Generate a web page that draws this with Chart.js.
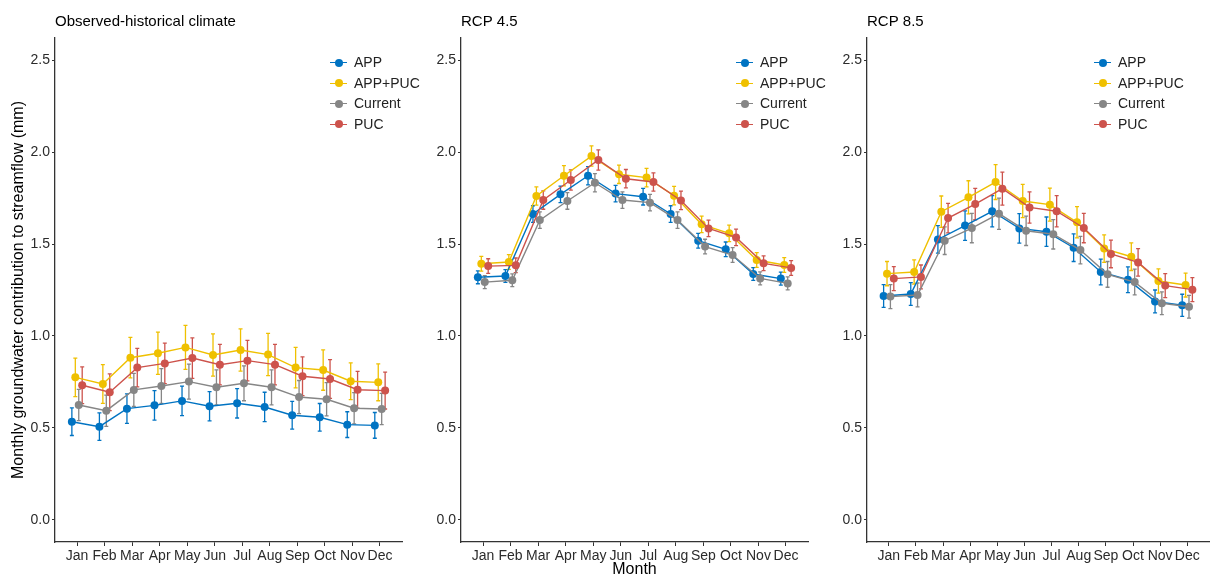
<!DOCTYPE html>
<html>
<head>
<meta charset="utf-8">
<script src="https://cdn.jsdelivr.net/npm/chart.js@4.4.0/dist/chart.umd.min.js"></script>
<style>
  body { margin: 0; background: #fff; font-family: "Liberation Sans", Arial, sans-serif; }
  #wrap { position: relative; width: 1213px; height: 578px; overflow: hidden; }
  .panel { position: absolute; top: 0; height: 578px; }
  .legend { position: absolute; top: 52px; font-size: 14px; color: #222; }
  .item { position: relative; height: 20.5px; line-height: 20.5px; padding-left: 24px; white-space: nowrap; }
  .item .ln { position: absolute; left: 0; top: 10px; width: 17px; height: 0; border-top: 1.4px solid; }
  .item .dt { position: absolute; left: 4.5px; top: 6.5px; width: 8px; height: 8px; border-radius: 50%; }
</style>
</head>
<body>
<div id="wrap"></div>
<script>
const months = ['Jan', 'Feb', 'Mar', 'Apr', 'May', 'Jun', 'Jul', 'Aug', 'Sep', 'Oct', 'Nov', 'Dec'];
const seriesNames = ['APP', 'APP+PUC', 'Current', 'PUC'];
const seriesColors = ['#0073C2', '#EFC000', '#868686', '#CD534C'];
const yTicks = [0, 0.5, 1.0, 1.5, 2.0, 2.5];

// Observed-historical climate
const histAPP     = [0.534, 0.507, 0.605, 0.623, 0.647, 0.618, 0.634, 0.614, 0.569, 0.558, 0.518, 0.514];
const histAPPPUC  = [0.775, 0.739, 0.882, 0.906, 0.938, 0.897, 0.924, 0.899, 0.828, 0.815, 0.754, 0.748];
const histCurrent = [0.625, 0.594, 0.707, 0.728, 0.752, 0.721, 0.743, 0.721, 0.668, 0.656, 0.607, 0.603];
const histPUC     = [0.732, 0.694, 0.828, 0.851, 0.880, 0.844, 0.866, 0.844, 0.781, 0.766, 0.708, 0.703];
const histAPPErr     = [0.075, 0.075, 0.08, 0.08, 0.08, 0.08, 0.08, 0.08, 0.075, 0.075, 0.07, 0.07];
const histAPPPUCErr  = [0.105, 0.105, 0.11, 0.115, 0.12, 0.115, 0.115, 0.115, 0.11, 0.11, 0.1, 0.1];
const histCurrentErr = [0.085, 0.085, 0.09, 0.095, 0.095, 0.095, 0.095, 0.095, 0.09, 0.09, 0.085, 0.085];
const histPUCErr     = [0.1, 0.1, 0.105, 0.11, 0.11, 0.11, 0.11, 0.11, 0.105, 0.105, 0.1, 0.1];

// RCP 4.5
const rcp45APP     = [1.319, 1.326, 1.663, 1.770, 1.871, 1.774, 1.757, 1.663, 1.518, 1.471, 1.337, 1.312];
const rcp45APPPUC  = [1.393, 1.402, 1.761, 1.871, 1.978, 1.879, 1.861, 1.763, 1.607, 1.558, 1.413, 1.386];
const rcp45Current = [1.293, 1.303, 1.630, 1.734, 1.833, 1.739, 1.725, 1.630, 1.486, 1.440, 1.313, 1.286];
const rcp45PUC     = [1.380, 1.384, 1.739, 1.848, 1.957, 1.855, 1.837, 1.737, 1.585, 1.536, 1.395, 1.370];
const rcp45APPErr     = [0.035, 0.035, 0.045, 0.045, 0.05, 0.045, 0.045, 0.045, 0.04, 0.04, 0.035, 0.035];
const rcp45APPPUCErr  = [0.04, 0.04, 0.05, 0.055, 0.055, 0.05, 0.05, 0.05, 0.045, 0.045, 0.04, 0.04];
const rcp45CurrentErr = [0.035, 0.035, 0.045, 0.045, 0.05, 0.045, 0.045, 0.045, 0.04, 0.04, 0.035, 0.035];
const rcp45PUCErr     = [0.04, 0.04, 0.05, 0.055, 0.055, 0.05, 0.05, 0.05, 0.045, 0.045, 0.04, 0.04];

// RCP 8.5
const rcp85APP     = [1.217, 1.228, 1.525, 1.600, 1.678, 1.585, 1.567, 1.480, 1.348, 1.306, 1.188, 1.167];
const rcp85APPPUC  = [1.339, 1.348, 1.676, 1.754, 1.837, 1.734, 1.714, 1.618, 1.475, 1.431, 1.299, 1.277];
const rcp85Current = [1.214, 1.223, 1.518, 1.587, 1.665, 1.572, 1.553, 1.467, 1.335, 1.293, 1.178, 1.159];
const rcp85PUC     = [1.312, 1.321, 1.641, 1.717, 1.801, 1.699, 1.678, 1.587, 1.446, 1.400, 1.274, 1.252];
const rcp85APPErr     = [0.062, 0.062, 0.075, 0.08, 0.085, 0.08, 0.08, 0.075, 0.07, 0.07, 0.062, 0.06];
const rcp85APPPUCErr  = [0.066, 0.066, 0.085, 0.09, 0.095, 0.09, 0.09, 0.085, 0.075, 0.075, 0.066, 0.065];
const rcp85CurrentErr = [0.065, 0.065, 0.075, 0.08, 0.085, 0.08, 0.08, 0.075, 0.07, 0.07, 0.062, 0.062];
const rcp85PUCErr     = [0.065, 0.065, 0.08, 0.085, 0.09, 0.085, 0.085, 0.08, 0.075, 0.075, 0.065, 0.065];

// horizontal dodge of the four series around each month
const dodge = [-0.1875, -0.0625, 0.0625, 0.1875];
const fontFamily = '"Liberation Sans", Arial, sans-serif';

const panels = [
  { left: 0, width: 406, padRight: 4, legendLeft: 330, title: 'Observed-historical climate', yTitle: true, xTitle: false,
    values: [histAPP, histAPPPUC, histCurrent, histPUC],
    errors: [histAPPErr, histAPPPUCErr, histCurrentErr, histPUCErr] },
  { left: 406, width: 406, padRight: 4, legendLeft: 330, title: 'RCP 4.5', yTitle: false, xTitle: true,
    values: [rcp45APP, rcp45APPPUC, rcp45Current, rcp45PUC],
    errors: [rcp45APPErr, rcp45APPPUCErr, rcp45CurrentErr, rcp45PUCErr] },
  { left: 812, width: 401, padRight: 0, legendLeft: 282, title: 'RCP 8.5', yTitle: false, xTitle: false,
    values: [rcp85APP, rcp85APPPUC, rcp85Current, rcp85PUC],
    errors: [rcp85APPErr, rcp85APPPUCErr, rcp85CurrentErr, rcp85PUCErr] }
];

const errorBars = {
  id: 'errorBars',
  beforeDatasetsDraw(chart) {
    const ctx = chart.ctx;
    const yScale = chart.scales.y;
    chart.data.datasets.forEach((ds, i) => {
      const meta = chart.getDatasetMeta(i);
      ctx.save();
      ctx.strokeStyle = ds.borderColor;
      ctx.lineWidth = 1.3;
      meta.data.forEach((pt, j) => {
        const v = ds.data[j].y;
        const e = ds.errors[j];
        const yTop = yScale.getPixelForValue(v + e);
        const yBot = yScale.getPixelForValue(v - e);
        ctx.beginPath();
        ctx.moveTo(pt.x, yTop); ctx.lineTo(pt.x, yBot);
        ctx.moveTo(pt.x - 2, yTop); ctx.lineTo(pt.x + 2, yTop);
        ctx.moveTo(pt.x - 2, yBot); ctx.lineTo(pt.x + 2, yBot);
        ctx.stroke();
      });
      ctx.restore();
    });
  }
};

const wrap = document.getElementById('wrap');

panels.forEach((p) => {
  const div = document.createElement('div');
  div.className = 'panel';
  div.style.left = p.left + 'px';
  div.style.width = p.width + 'px';
  const canvas = document.createElement('canvas');
  canvas.width = p.width;
  canvas.height = 578;
  div.appendChild(canvas);

  // legend inside the panel
  const legend = document.createElement('div');
  legend.className = 'legend';
  legend.style.left = p.legendLeft + 'px';
  seriesNames.forEach((name, k) => {
    const item = document.createElement('div');
    item.className = 'item';
    item.innerHTML = '<span class="ln" style="border-color:' + seriesColors[k] + '"></span>' +
      '<span class="dt" style="background:' + seriesColors[k] + '"></span>' + name;
    legend.appendChild(item);
  });
  div.appendChild(legend);
  wrap.appendChild(div);

  const datasets = seriesNames.map((name, k) => ({
    label: name,
    data: p.values[k].map((v, j) => ({ x: j + 1 + dodge[k], y: v })),
    errors: p.errors[k],
    borderColor: seriesColors[k],
    backgroundColor: seriesColors[k],
    borderWidth: 1.4,
    pointRadius: 4,
    pointBorderWidth: 0,
    pointHoverRadius: 4,
    order: 4 - k,
    clip: false
  }));

  new Chart(canvas, {
    type: 'line',
    data: { datasets: datasets },
    plugins: [errorBars],
    options: {
      responsive: false,
      animation: false,
      events: [],
      layout: { padding: { left: 0, right: p.padRight, top: 0, bottom: 0 } },
      plugins: {
        legend: { display: false },
        tooltip: { enabled: false },
        title: {
          display: true, text: p.title, align: 'start', fullSize: false, color: '#000',
          font: { size: 15, family: fontFamily, weight: 'normal' },
          padding: { top: 13, bottom: 7 }
        }
      },
      scales: {
        x: {
          type: 'linear', min: 0.2, max: 12.8,
          afterBuildTicks: (axis) => { axis.ticks = months.map((m, i) => ({ value: i + 1 })); },
          afterFit: (s) => { s.height = 36; },
          ticks: {
            autoSkip: false, maxRotation: 0, padding: 2, color: '#2b2b2b',
            font: { size: 14, family: fontFamily },
            callback: (v) => months[Math.round(v) - 1]
          },
          grid: { display: true, drawOnChartArea: false, tickLength: 4, color: '#333', lineWidth: 1 },
          border: { color: '#333', width: 1.3 },
          title: {
            display: p.xTitle, text: 'Month', color: '#000',
            font: { size: 16, family: fontFamily }, padding: { top: 0, bottom: -1 }
          }
        },
        y: {
          min: -0.12, max: 2.62,
          afterBuildTicks: (axis) => { axis.ticks = yTicks.map((v) => ({ value: v })); },
          afterFit: (s) => { s.width = 55; },
          ticks: {
            padding: 2, color: '#2b2b2b', font: { size: 14, family: fontFamily },
            callback: (v) => v.toFixed(1)
          },
          grid: { display: true, drawOnChartArea: false, tickLength: 3, color: '#333', lineWidth: 1 },
          border: { color: '#333', width: 1.3 },
          title: {
            display: p.yTitle, text: 'Monthly groundwater contribution to streamflow (mm)', color: '#000',
            font: { size: 16, family: fontFamily }, padding: { top: 9, bottom: 0 }
          }
        }
      }
    }
  });
});
</script>
</body>
</html>
